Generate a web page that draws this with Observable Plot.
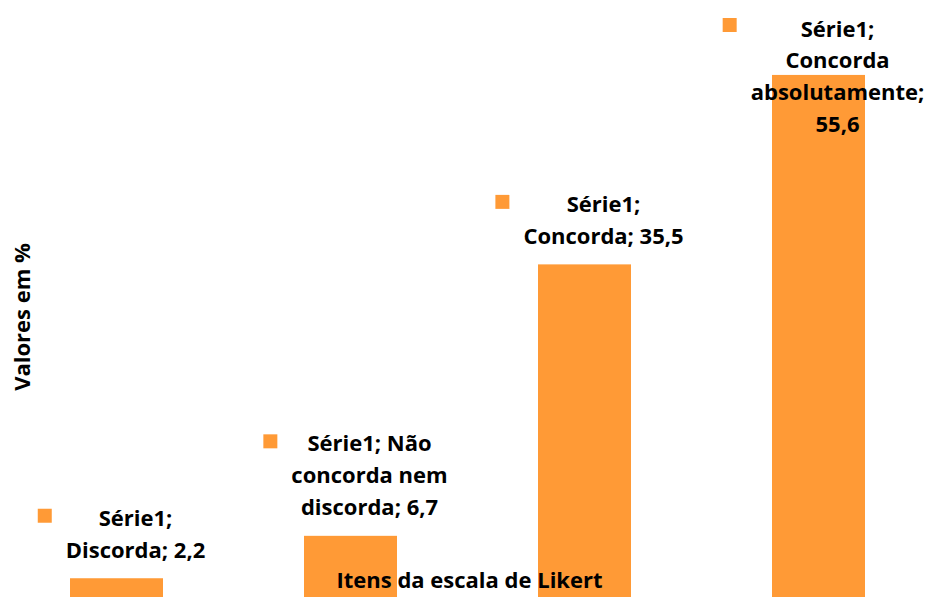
<!DOCTYPE html>
<html><head><meta charset="utf-8">
<script src="https://cdn.jsdelivr.net/npm/d3@7"></script>
<script src="https://cdn.jsdelivr.net/npm/@observablehq/plot@0.6"></script>
<style>html,body{margin:0;padding:0;background:#fff;overflow:hidden} svg{display:block}</style>
</head><body><div id="chart"></div>
<script>
// ---- data ----
const series = "Série1";
const categories = ["Discorda", "Não concorda nem discorda", "Concorda", "Concorda absolutamente"];
const values = [2.2, 6.7, 35.5, 55.6];
const labelLines = [
  ["Série1;", "Discorda; 2,2"],
  ["Série1; Não", "concorda nem", "discorda; 6,7"],
  ["Série1;", "Concorda; 35,5"],
  ["Série1;", "Concorda", "absolutamente;", "55,6"]
];
const xTitle = "Itens da escala de Likert";
const yTitle = "Valores em %";
const yDomain = [0.21, 63.55];

// ---- style ----
const ORANGE = "#FF9A36";
const FONT = "'Open Sans'";
const FS = 22, LH = 32;
const GAP = 21;        // gap between bar top and last baseline
const LABEL_DX = 18.5; // label center offset from bar center
const MARK_ABOVE = 10; // marker center above first baseline

const data = categories.map((c, i) => ({category: c, value: values[i], lines: labelLines[i], series}));

const ctx = document.createElement("canvas").getContext("2d");
ctx.font = `bold ${FS}px ${FONT}`;
const textW = s => ctx.measureText(s).width;

const base = {
  width: 928, height: 597,
  marginLeft: 69, marginRight: 62, marginTop: 0, marginBottom: 0,
  x: {domain: categories, paddingInner: 0.604, paddingOuter: 0, axis: null},
  y: {domain: yDomain, axis: null},
  style: {fontFamily: FONT, background: "#fff", overflow: "hidden"}
};

const bars = Plot.barY(data, {x: "category", y: "value", fill: ORANGE, clip: true});

// first pass: get the y scale to decide whether a label fits above its bar
const probe = Plot.plot({...base, marks: [bars]});
const ys = probe.scale("y");

const labelMarks = [];
for (const d of data) {
  const n = d.lines.length;
  const maxW = Math.max(...d.lines.map(textW));
  const markDx = LABEL_DX - maxW / 2 - 21;
  const top = ys.apply(d.value) - GAP - (n - 1) * LH - 16;
  const txt = d.lines.join("\n");
  const common = {x: "category", fontSize: FS, fontWeight: "bold", fill: "#000", lineHeight: LH / FS, textAnchor: "middle"};
  if (top >= 0) {
    labelMarks.push(Plot.text([d], {...common, y: "value", text: () => txt, lineAnchor: "bottom", dx: LABEL_DX, dy: -GAP}));
    labelMarks.push(Plot.dot([d], {x: "category", y: "value", symbol: "square", r: 7.9, fill: ORANGE, stroke: null,
      dx: markDx, dy: -GAP - (n - 1) * LH - MARK_ABOVE}));
  } else {
    const firstBase = 36;
    labelMarks.push(Plot.text([d], {...common, frameAnchor: "top", text: () => txt, lineAnchor: "top", dx: LABEL_DX,
      dy: firstBase - 0.71 * LH}));
    labelMarks.push(Plot.dot([d], {x: "category", frameAnchor: "top", symbol: "square", r: 7.9, fill: ORANGE, stroke: null,
      dx: markDx, dy: firstBase - MARK_ABOVE - 1.5}));
  }
}

const chart = Plot.plot({
  ...base,
  marks: [
    bars,
    ...labelMarks,
    Plot.text([yTitle], {frameAnchor: "left", text: d => d, textAnchor: "middle", rotate: -90, dx: -47, dy: 18, fontSize: FS, fontWeight: "bold", fill: "#000"}),
    Plot.text([xTitle], {frameAnchor: "bottom", text: d => d, textAnchor: "middle", lineAnchor: "bottom", dx: 1.5, dy: -10, fontSize: FS, fontWeight: "bold", fill: "#000"})
  ]
});
document.getElementById("chart").appendChild(chart);
</script>
</body></html>
